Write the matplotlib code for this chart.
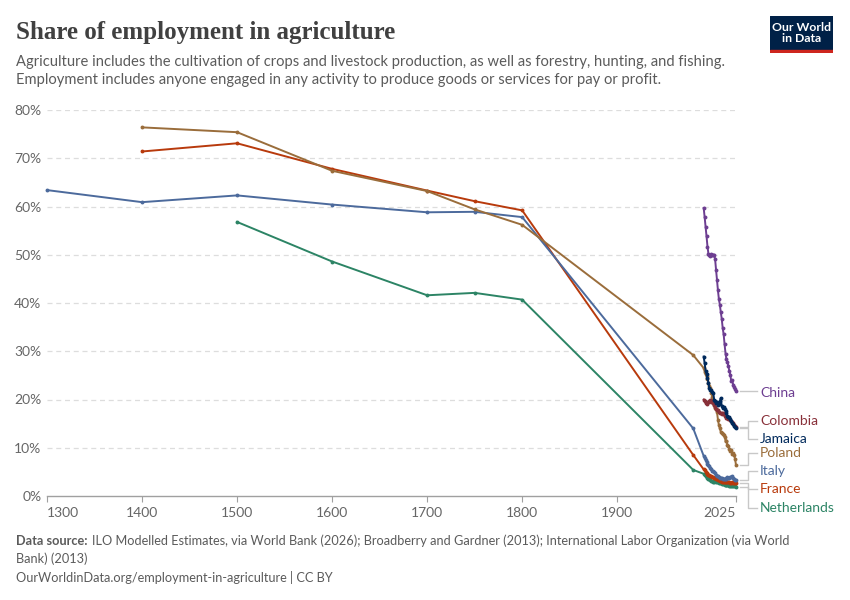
import matplotlib
matplotlib.use("Agg")
import matplotlib.pyplot as plt
from matplotlib.patches import Rectangle

# ---------------- data ----------------
hist_years = [1300, 1400, 1500, 1600, 1700, 1750, 1800, 1980]
modern_years = list(range(1991, 2026))

italy_hist = [63.4, 60.9, 62.3, 60.4, 58.8, 58.9, 57.8, 14.0]
poland_hist = [None, 76.4, 75.4, 67.4, 63.2, 59.4, 56.2, 29.2]
france_hist = [None, 71.4, 73.1, 67.8, 63.3, 61.1, 59.2, 8.5]
netherlands_hist = [None, None, 56.8, 48.6, 41.6, 42.1, 40.7, 5.4]

china = [59.7, 57.8, 55.8, 53.8, 51.7, 50.2, 49.9, 49.8, 50.1, 50.0, 50.0, 50.0,
         49.1, 46.9, 44.8, 42.6, 40.8, 39.6, 38.1, 36.7, 34.8, 33.5, 31.4, 29.5,
         28.3, 27.7, 26.9, 25.9, 25.1, 23.8, 24.0, 23.1, 22.6, 22.1, 21.7]
colombia = [20.0, 19.7, 19.3, 19.0, 19.2, 19.5, 19.7, 19.8, 19.5, 19.6, 19.3, 18.9,
            18.5, 18.0, 17.8, 17.9, 17.5, 17.3, 17.2, 17.0, 17.3, 16.9, 16.6, 16.5,
            16.2, 16.2, 16.0, 16.1, 15.8, 15.6, 15.3, 15.1, 14.8, 14.5, 14.3]
jamaica = [28.9, 27.5, 26.0, 25.3, 24.4, 23.5, 22.3, 21.9, 22.0, 21.6, 21.4, 20.0,
           19.7, 19.2, 19.5, 18.9, 19.0, 19.6, 20.3, 18.6, 18.2, 18.4, 18.0, 17.6,
           17.2, 16.6, 16.3, 16.4, 15.9, 15.6, 15.2, 14.9, 14.5, 14.2, 14.0]
poland = [26.5, 25.8, 25.3, 24.8, 24.2, 23.5, 22.9, 22.3, 21.4, 20.6, 19.6, 18.9,
          18.2, 18.0, 17.4, 15.8, 14.7, 14.0, 13.3, 13.0, 12.9, 12.6, 12.3, 11.5,
          11.5, 10.6, 10.3, 9.8, 9.4, 9.5, 8.8, 8.9, 8.4, 7.7, 6.4]
italy = [8.3, 7.9, 7.5, 7.1, 6.7, 6.5, 6.2, 5.9, 5.5, 5.2, 5.1, 4.9, 4.7, 4.4,
         4.2, 4.2, 4.0, 3.8, 3.8, 3.7, 3.6, 3.6, 3.6, 3.6, 3.7, 3.9, 3.8, 3.8,
         4.0, 3.9, 4.1, 3.8, 3.5, 3.4, 3.3]
france = [5.5, 5.3, 5.0, 4.8, 4.6, 4.4, 4.3, 4.2, 4.1, 4.0, 3.9, 3.8, 3.7, 3.6,
          3.5, 3.4, 3.3, 3.2, 3.1, 3.0, 3.0, 3.0, 2.9, 2.9, 2.9, 2.8, 2.8, 2.8,
          2.7, 2.7, 2.8, 2.7, 2.7, 2.6, 2.6]
netherlands = [4.6, 4.4, 4.2, 4.0, 3.8, 3.6, 3.5, 3.3, 3.2, 3.1, 3.0, 3.0, 3.1,
               3.0, 2.9, 2.8, 2.7, 2.6, 2.6, 2.5, 2.5, 2.4, 2.3, 2.3, 2.2, 2.2,
               2.2, 2.1, 2.1, 2.1, 2.0, 2.0, 2.0, 2.0, 1.9]

labels = ["China", "Colombia", "Jamaica", "Poland", "Italy", "France", "Netherlands"]
label_y = [21.4, 15.6, 11.9, 9.0, 5.2, 1.4, -2.4]

y_ticks = [0, 10, 20, 30, 40, 50, 60, 70, 80]
x_ticks = [1300, 1400, 1500, 1600, 1700, 1800, 1900, 2025]

colors = {
    "China": "#6D3E91",
    "Colombia": "#883039",
    "Jamaica": "#00295B",
    "Poland": "#9A6D3B",
    "Italy": "#4C6A9C",
    "France": "#B83A0C",
    "Netherlands": "#2C8465",
}

def series(hist, modern):
    xs, ys = [], []
    if hist is not None:
        for x, y in zip(hist_years, hist):
            if y is not None:
                xs.append(x); ys.append(y)
    for x, y in zip(modern_years, modern):
        xs.append(x); ys.append(y)
    return xs, ys

data = {
    "China": series(None, china),
    "Colombia": series(None, colombia),
    "Jamaica": series(None, jamaica),
    "Poland": series(poland_hist, poland),
    "Italy": series(italy_hist, italy),
    "France": series(france_hist, france),
    "Netherlands": series(netherlands_hist, netherlands),
}

FONT = "Lato"
GRAY = "#5b5b5b"

fig = plt.figure(figsize=(8.5, 6), dpi=100)
ax = fig.add_axes([47 / 850, (600 - 496) / 600, (736 - 47) / 850, (496 - 110) / 600])

ax.set_xlim(1300, 2025)
ax.set_ylim(0, 80)

for yt in y_ticks[1:]:
    ax.axhline(yt, color="#dddddd", lw=0.9, ls=(0, (4, 3)), zorder=0)

order = ["Netherlands", "France", "Italy", "Poland", "Colombia", "Jamaica", "China"]
for name in order:
    xs, ys = data[name]
    ax.plot(xs, ys, color=colors[name], lw=1.4, marker="o", ms=2.8,
            markeredgewidth=0, zorder=3, clip_on=False)

for s in ["top", "right", "left"]:
    ax.spines[s].set_visible(False)
ax.spines["bottom"].set_color("#a0a0a0")
ax.spines["bottom"].set_linewidth(1.0)

ax.set_yticks(y_ticks)
ax.set_yticklabels([f"{v}%" for v in y_ticks], fontfamily=FONT, fontsize=10, color="#666666")
ax.tick_params(axis="y", length=0, pad=4)
ax.set_xticks(x_ticks)
ax.set_xticklabels([str(v) for v in x_ticks], fontfamily=FONT, fontsize=10, color="#666666")
ax.tick_params(axis="x", length=4, color="#a0a0a0", pad=4)
xl = ax.get_xticklabels()
xl[0].set_horizontalalignment("left")
xl[-1].set_horizontalalignment("right")

# end labels with connectors
x_end = 2025
for name, ly in zip(labels, label_y):
    xs, ys = data[name]
    yd = ys[-1]
    x0, xm, x1 = x_end + 4.5, x_end + 12.5, x_end + 22.5
    if abs(yd - ly) < 0.4:
        ax.plot([x0, x1], [yd, yd], color="#c8c8c8", lw=1.0, clip_on=False)
    else:
        ax.plot([x0, xm, xm, x1], [yd, yd, ly, ly], color="#c8c8c8", lw=1.0, clip_on=False)
    ax.text(x1 + 3, ly, name, color=colors[name], fontfamily=FONT, fontsize=10,
            va="center", ha="left", clip_on=False)

# title & subtitle
fig.text(16 / 850, 1 - 32 / 600, "Share of employment in agriculture", fontfamily="Liberation Serif",
         fontsize=18, fontweight="bold", color="#404040", va="center", ha="left")
fig.text(16 / 850, 1 - 62 / 600,
         "Agriculture includes the cultivation of crops and livestock production, as well as forestry, hunting, and fishing.",
         fontfamily=FONT, fontsize=10.6, color=GRAY, va="center", ha="left")
fig.text(16 / 850, 1 - 80 / 600,
         "Employment includes anyone engaged in any activity to produce goods or services for pay or profit.",
         fontfamily=FONT, fontsize=10.6, color=GRAY, va="center", ha="left")

# logo
logo = fig.add_axes([770 / 850, 1 - 53 / 600, 63 / 850, 37 / 600])
logo.set_xlim(0, 1); logo.set_ylim(0, 1); logo.axis("off")
logo.add_patch(Rectangle((0, 0.08), 1, 0.92, color="#002147"))
logo.add_patch(Rectangle((0, 0), 1, 0.08, color="#CE261E"))
logo.text(0.5, 0.55, "Our World\nin Data", color="white", fontfamily=FONT, fontsize=8.8,
          fontweight="bold", ha="center", va="center", linespacing=1.0)

# footer
FS = 9.2
t1 = fig.text(16 / 850, 1 - 541 / 600, "Data source:", fontfamily=FONT, fontsize=FS,
              fontweight="bold", color=GRAY, va="center", ha="left")
fig.canvas.draw()
bb = t1.get_window_extent(renderer=fig.canvas.get_renderer())
fig.text((bb.x1 + 4) / 850, 1 - 541 / 600,
         "ILO Modelled Estimates, via World Bank (2026); Broadberry and Gardner (2013); International Labor Organization (via World",
         fontfamily=FONT, fontsize=FS, color=GRAY, va="center", ha="left")
fig.text(16 / 850, 1 - 559 / 600, "Bank) (2013)", fontfamily=FONT, fontsize=FS, color=GRAY,
         va="center", ha="left")
fig.text(16 / 850, 1 - 578 / 600, "OurWorldinData.org/employment-in-agriculture | CC BY",
         fontfamily=FONT, fontsize=FS, color=GRAY, va="center", ha="left")

fig.savefig("out.png", dpi=100)
